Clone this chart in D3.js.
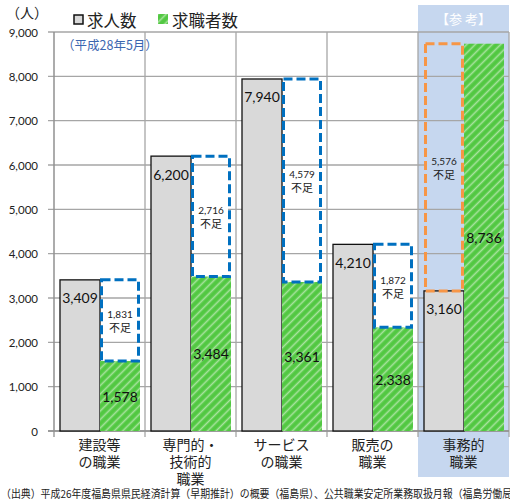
<!DOCTYPE html>
<html>
<head>
<meta charset="utf-8">
<script src="https://cdn.jsdelivr.net/npm/d3@7"></script>
<style>
  html, body { margin: 0; padding: 0; background: #fff; }
  svg { display: block; }
  .jp { font-family: "Noto Sans CJK JP", "Noto Sans", sans-serif; }
  .num { font-family: Lato, "Liberation Sans", sans-serif; }
</style>
</head>
<body>
<svg id="chart" width="510" height="500"></svg>
<script>
// Occupation categories (multi-line axis labels)
const categories = [
  ["建設等", "の職業"],
  ["専門的・", "技術的", "職業"],
  ["サービス", "の職業"],
  ["販売の", "職業"],
  ["事務的", "職業"]
];
// 求人数 (job offers) and 求職者数 (job seekers), May H28
const jobOffers = [3409, 6200, 7940, 4210, 3160];
const jobSeekers = [1578, 3484, 3361, 2338, 8736];
// Index of the reference column (事務的職業)
const referenceIndex = 4;
const yTicks = [0, 1000, 2000, 3000, 4000, 5000, 6000, 7000, 8000, 9000];
const seriesNames = ["求人数", "求職者数"];
const sourceNote = "（出典）平成26年度福島県県民経済計算（早期推計）の概要（福島県）、公共職業安定所業務取扱月報（福島労働局）";

const svg = d3.select("#chart");
const fmt = d3.format(",");

const plot = { left: 54, right: 509, top: 32, bottom: 431 };
const x = d3.scaleBand().domain(d3.range(categories.length)).range([plot.left, plot.right]);
const xs = d3.scaleBand().domain(seriesNames).range([6, 86]);
const y = d3.scaleLinear().domain([0, 9000]).range([plot.bottom, plot.top]);

const GRID = "#a6a6a6";
const GRAY = "#d9d9d9";
const BLUE = "#0070c0";
const ORANGE = "#f79646";
const REFBG = "#c6d7ef";

// hatch pattern for the job-seeker bars
const defs = svg.append("defs");
const pat = defs.append("pattern")
  .attr("id", "hatch").attr("patternUnits", "userSpaceOnUse")
  .attr("width", 6).attr("height", 6)
  .attr("patternTransform", "rotate(45)");
pat.append("rect").attr("width", 6).attr("height", 6).attr("fill", "#52c842");
pat.append("line").attr("x1", 1.5).attr("x2", 1.5).attr("y1", 0).attr("y2", 6)
  .attr("stroke", "#a8e39e").attr("stroke-width", 1.6);

// shaded reference column with header
const refX = x(referenceIndex);
svg.append("rect").attr("x", refX).attr("y", 5)
  .attr("width", x.bandwidth()).attr("height", 472).attr("fill", REFBG);
svg.append("text").attr("class", "jp")
  .attr("x", refX + x.bandwidth() / 2).attr("y", 18)
  .attr("text-anchor", "middle").attr("dominant-baseline", "central")
  .attr("fill", "#fff").attr("font-size", 13).text("【参 考】");

// horizontal gridlines
svg.append("g").selectAll("line").data(yTicks).join("line")
  .attr("x1", plot.left - 6).attr("x2", plot.right)
  .attr("y1", d => y(d)).attr("y2", d => y(d))
  .attr("stroke", GRID).attr("stroke-width", 1.3);

// vertical category separators
svg.append("g").selectAll("line").data(d3.range(categories.length)).join("line")
  .attr("x1", d => x(d) + x.bandwidth()).attr("x2", d => x(d) + x.bandwidth())
  .attr("y1", plot.top).attr("y2", plot.bottom + 6)
  .attr("stroke", GRID).attr("stroke-width", 1.3);

// y axis line
svg.append("line").attr("x1", plot.left).attr("x2", plot.left)
  .attr("y1", plot.top).attr("y2", plot.bottom)
  .attr("stroke", "#909090").attr("stroke-width", 1.5);
// x axis line + ticks
svg.append("line").attr("x1", plot.left - 6).attr("x2", plot.right)
  .attr("y1", plot.bottom).attr("y2", plot.bottom)
  .attr("stroke", "#909090").attr("stroke-width", 1.5);
svg.append("line").attr("x1", plot.left).attr("x2", plot.left)
  .attr("y1", plot.bottom).attr("y2", plot.bottom + 6)
  .attr("stroke", "#909090").attr("stroke-width", 1.3);

// y tick labels
svg.append("g").selectAll("text").data(yTicks).join("text")
  .attr("class", "num")
  .attr("x", 38).attr("y", d => y(d))
  .attr("text-anchor", "end").attr("dominant-baseline", "central")
  .attr("font-size", 11.5).attr("fill", "#222")
  .text(d => fmt(d));

svg.append("text").attr("class", "jp")
  .attr("x", 6).attr("y", 12).attr("dominant-baseline", "central")
  .attr("font-size", 14).attr("fill", "#222").text("（人）");

svg.append("text").attr("class", "jp")
  .attr("x", 62).attr("y", 44).attr("dominant-baseline", "central")
  .attr("font-size", 12.5).attr("fill", "#3b66b0").text("（平成28年5月）");

// bars
const idx = d3.range(categories.length);
svg.append("g").selectAll("rect").data(idx).join("rect")
  .attr("x", i => x(i) + xs("求人数"))
  .attr("y", i => y(jobOffers[i]))
  .attr("width", xs.bandwidth())
  .attr("height", i => y(0) - y(jobOffers[i]))
  .attr("fill", GRAY).attr("stroke", "#111").attr("stroke-width", 1.3);

svg.append("g").selectAll("rect").data(idx).join("rect")
  .attr("x", i => x(i) + xs("求職者数"))
  .attr("y", i => y(jobSeekers[i]))
  .attr("width", xs.bandwidth())
  .attr("height", i => y(0) - y(jobSeekers[i]))
  .attr("fill", "url(#hatch)");

// gap boxes: dashed outline spanning the difference between the two series
function gapBox(i) {
  const lo = Math.min(jobOffers[i], jobSeekers[i]);
  const hi = Math.max(jobOffers[i], jobSeekers[i]);
  const ref = i === referenceIndex;
  const bx = x(i) + (ref ? xs("求人数") : xs("求職者数"));
  return { i, lo, hi, ref, bx, diff: hi - lo };
}
const gaps = idx.map(gapBox);

svg.append("g").selectAll("rect").data(gaps).join("rect")
  .attr("x", g => g.bx + 1.5)
  .attr("y", g => y(g.hi))
  .attr("width", xs.bandwidth() - 3)
  .attr("height", g => y(g.lo) - y(g.hi))
  .attr("fill", "none")
  .attr("stroke", g => g.ref ? ORANGE : BLUE)
  .attr("stroke-width", 3)
  .attr("stroke-dasharray", "9,4");

// gap labels
const gl = svg.append("g").selectAll("g").data(gaps).join("g")
  .attr("transform", g => `translate(${g.bx + xs.bandwidth() / 2},${(y(g.hi) + y(g.lo)) / 2})`);
gl.append("rect").attr("x", -17).attr("y", -14).attr("width", 34).attr("height", 29)
  .attr("fill", g => g.ref ? REFBG : "#fff");
gl.append("text").attr("class", "num")
  .attr("y", -6).attr("text-anchor", "middle").attr("dominant-baseline", "central")
  .attr("font-size", 10).attr("fill", "#222").text(g => fmt(g.diff));
gl.append("text").attr("class", "jp")
  .attr("y", 7).attr("text-anchor", "middle").attr("dominant-baseline", "central")
  .attr("font-size", 11).attr("fill", "#222").text("不足");

// value labels
svg.append("g").selectAll("text").data(idx).join("text")
  .attr("class", "num")
  .attr("x", i => x(i) + xs("求人数") + xs.bandwidth() / 2)
  .attr("y", i => y(jobOffers[i]) + 18)
  .attr("text-anchor", "middle").attr("dominant-baseline", "central")
  .attr("font-size", 14).attr("fill", "#111")
  .text(i => fmt(jobOffers[i]));

svg.append("g").selectAll("text").data(idx).join("text")
  .attr("class", "num")
  .attr("x", i => x(i) + xs("求職者数") + xs.bandwidth() / 2)
  .attr("y", i => (y(jobSeekers[i]) + y(0)) / 2)
  .attr("text-anchor", "middle").attr("dominant-baseline", "central")
  .attr("font-size", 14).attr("fill", "#111")
  .text(i => fmt(jobSeekers[i]));

// category labels
const cl = svg.append("g").selectAll("text").data(idx).join("text")
  .attr("class", "jp")
  .attr("text-anchor", "middle").attr("font-size", 14).attr("fill", "#222");
cl.selectAll("tspan").data(i => categories[i].map((t, k) => ({ t, k, i }))).join("tspan")
  .attr("x", d => x(d.i) + x.bandwidth() / 2)
  .attr("y", d => 444 + d.k * 17)
  .attr("dominant-baseline", "central")
  .text(d => d.t);

// legend
const lg = svg.append("g");
lg.append("rect").attr("x", 74).attr("y", 15).attr("width", 9).attr("height", 9)
  .attr("fill", GRAY).attr("stroke", "#111").attr("stroke-width", 1.5);
lg.append("text").attr("class", "jp").attr("x", 87).attr("y", 20)
  .attr("dominant-baseline", "central").attr("font-size", 16.5).attr("fill", "#222")
  .text(seriesNames[0]);
lg.append("rect").attr("x", 158).attr("y", 14).attr("width", 10).attr("height", 10)
  .attr("fill", "url(#hatch)");
lg.append("text").attr("class", "jp").attr("x", 172).attr("y", 20)
  .attr("dominant-baseline", "central").attr("font-size", 16.5).attr("fill", "#222")
  .text(seriesNames[1]);

// source note (runs past the right edge)
svg.append("text").attr("class", "jp")
  .attr("x", 1).attr("y", 493).attr("dominant-baseline", "central")
  .attr("font-size", 11).attr("fill", "#222")
  .attr("textLength", 521).attr("lengthAdjust", "spacingAndGlyphs")
  .text(sourceNote);
</script>
</body>
</html>
